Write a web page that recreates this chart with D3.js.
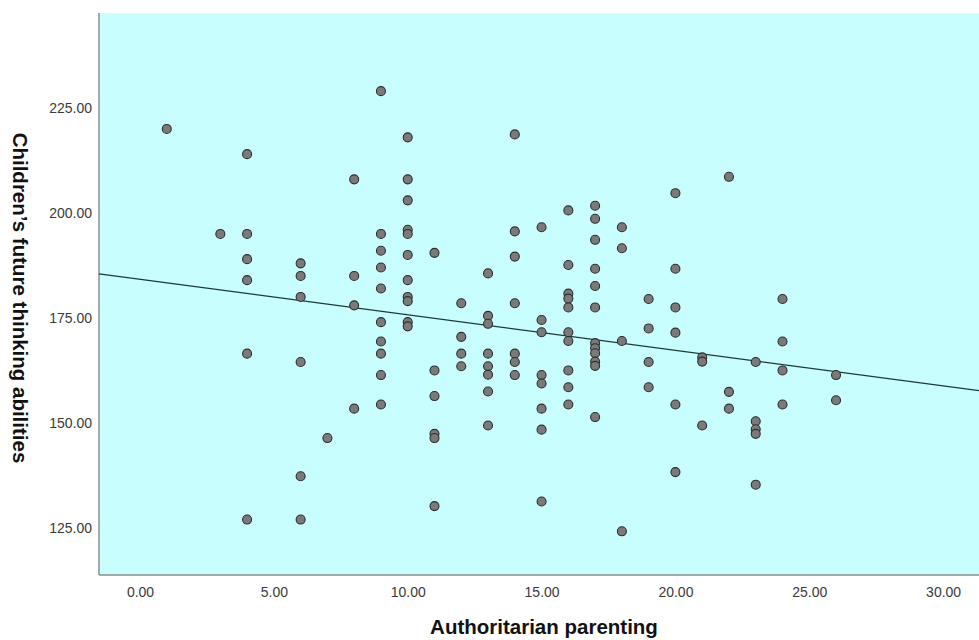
<!DOCTYPE html>
<html>
<head>
<meta charset="utf-8">
<script src="https://cdn.jsdelivr.net/npm/d3@7"></script>
<style>
  body { margin: 0; background: #fff; }
  text { font-family: Arial, "Liberation Sans", sans-serif; }
  .tick text { font-size: 14px; fill: #3a3a3a; }
  .axis-label { font-size: 20.5px; font-weight: bold; fill: #111; }
</style>
</head>
<body>
<svg width="979" height="640"></svg>
<script>
// points, grouped by x value (authoritarian parenting)
const xGroups = [1, 3, 4, 6, 7, 8, 9, 10, 11, 12, 13, 14, 15, 16, 17, 18, 19, 20, 21, 22, 23, 24, 26];
const yGroups = [
  [220],
  [195],
  [214, 195, 189, 184, 166.5, 127],
  [188, 185, 180, 164.5, 137.3, 127],
  [146.4],
  [208, 185, 178, 153.4],
  [229, 195, 191, 187, 182, 174, 169.4, 166.5, 161.4, 154.4],
  [218, 208, 203, 196, 195, 190, 184, 180, 179, 174, 173],
  [190.5, 162.5, 156.4, 147.4, 146.4, 130.2],
  [178.5, 170.5, 166.5, 163.5],
  [185.6, 175.5, 173.6, 166.5, 163.5, 161.5, 157.5, 149.4],
  [218.7, 195.6, 189.6, 178.5, 166.5, 164.5, 161.4],
  [196.6, 174.5, 171.6, 161.4, 159.4, 153.4, 148.4, 131.3],
  [200.6, 187.6, 180.8, 179.6, 177.5, 171.6, 169.5, 162.5, 158.5, 154.4],
  [201.7, 198.6, 193.6, 186.7, 182.6, 177.5, 169, 167.8, 166.6, 164.6, 163.6, 151.4],
  [196.6, 191.6, 169.5, 124.2],
  [179.5, 172.5, 164.5, 158.5],
  [204.7, 186.7, 177.5, 171.5, 154.4, 138.3],
  [165.6, 164.6, 149.4],
  [208.6, 157.4, 153.4],
  [164.5, 150.4, 148.5, 147.4, 135.3],
  [179.5, 169.4, 162.5, 154.4],
  [161.4, 155.4]
];
const xTicks = [0, 5, 10, 15, 20, 25, 30];
const yTicks = [125, 150, 175, 200, 225];
// fit line as drawn in the picture
const fitIntercept = 184.2;
const fitSlope = -0.846;

const data = [];
xGroups.forEach((x, i) => yGroups[i].forEach(y => data.push({ x, y })));

const svg = d3.select('svg');
const width = +svg.attr('width');
const height = +svg.attr('height');

const margin = { top: 13, right: 0, bottom: 65, left: 99 };
const innerWidth = width - margin.left - margin.right;
const innerHeight = height - margin.top - margin.bottom;

const xScale = d3.scaleLinear()
  .domain([-1.532, 31.34])
  .range([0, innerWidth]);

const yScale = d3.scaleLinear()
  .domain([113.8, 247.6])
  .range([innerHeight, 0]);

const g = svg.append('g')
  .attr('transform', `translate(${margin.left}, ${margin.top})`);

// plot background
g.append('rect')
  .attr('width', innerWidth)
  .attr('height', innerHeight)
  .attr('fill', '#c9fefe');

const fmt = d3.format('.2f');

const xAxisG = g.append('g')
  .attr('transform', `translate(0, ${innerHeight})`)
  .call(d3.axisBottom(xScale).tickValues(xTicks).tickFormat(fmt).tickSize(0).tickPadding(12));
xAxisG.select('.domain').remove();

const yAxisG = g.append('g')
  .call(d3.axisLeft(yScale).tickValues(yTicks).tickFormat(fmt).tickSize(0).tickPadding(7));
yAxisG.select('.domain').remove();

// frame lines (left and bottom)
g.append('line')
  .attr('x1', 0).attr('x2', 0)
  .attr('y1', 0).attr('y2', innerHeight)
  .attr('stroke', '#8c8c8c').attr('stroke-width', 1.5);
g.append('line')
  .attr('x1', 0).attr('x2', innerWidth)
  .attr('y1', innerHeight).attr('y2', innerHeight)
  .attr('stroke', '#8c8c8c').attr('stroke-width', 1.5);

// fit line
const [x0, x1] = xScale.domain();
g.append('line')
  .attr('x1', xScale(x0)).attr('y1', yScale(fitIntercept + fitSlope * x0))
  .attr('x2', xScale(x1)).attr('y2', yScale(fitIntercept + fitSlope * x1))
  .attr('stroke', '#1c3a3a').attr('stroke-width', 1.2);

g.selectAll('circle').data(data)
  .enter().append('circle')
  .attr('cx', d => xScale(d.x))
  .attr('cy', d => yScale(d.y))
  .attr('r', 4.5)
  .attr('fill', '#7a7a7a')
  .attr('stroke', '#2e2e2e')
  .attr('stroke-width', 1.1);

// axis titles
svg.append('text')
  .attr('class', 'axis-label')
  .attr('x', 544)
  .attr('y', 634)
  .attr('text-anchor', 'middle')
  .text('Authoritarian parenting');

svg.append('text')
  .attr('class', 'axis-label')
  .attr('transform', 'translate(13, 298) rotate(90)')
  .attr('text-anchor', 'middle')
  .text('Children’s future thinking abilities');
</script>
</body>
</html>
